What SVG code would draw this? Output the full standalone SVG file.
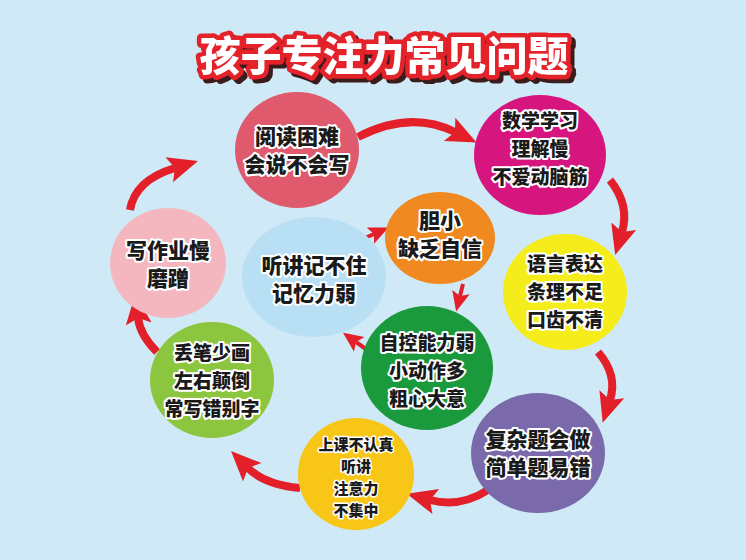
<svg xmlns="http://www.w3.org/2000/svg" width="746" height="560" viewBox="0 0 746 560">
<defs>
<marker id="ah" markerUnits="userSpaceOnUse" markerWidth="30" markerHeight="30" refX="6" refY="15" orient="auto"><path d="M0,2 L30,15 L0,28 L6,15 Z" fill="#e3202a"/></marker>
<marker id="ahs" markerUnits="userSpaceOnUse" markerWidth="20" markerHeight="20" refX="4" refY="10" orient="auto"><path d="M0,1 L20,10 L0,19 L4,10 Z" fill="#e3202a"/></marker>
<filter id="sh" x="-10%" y="-30%" width="120%" height="160%"><feDropShadow dx="4" dy="4" stdDeviation="0.5" flood-color="#3a1a1a"/></filter>
</defs>
<style>
.t{font-family:"Noto Sans CJK SC",sans-serif;font-weight:900;font-size:21px;fill:#1a1a1a;stroke:#fff;stroke-width:4;paint-order:stroke;text-anchor:middle;stroke-linejoin:round}
.m{font-size:19px}
.s{font-size:15px;stroke-width:3}
.a{fill:none;stroke:#e3202a;stroke-width:8;stroke-linecap:butt;marker-end:url(#ah)}
.b{fill:none;stroke:#e3202a;stroke-width:4;marker-end:url(#ahs)}
</style>
<rect width="746" height="560" fill="#cfe9f7"/>
<g id="title" filter="url(#sh)">
<text x="384" y="71" font-family="Noto Sans CJK SC,sans-serif" font-weight="900" font-size="41" text-anchor="middle" fill="#fff" stroke="#e3202a" stroke-width="9" stroke-linejoin="round" paint-order="stroke">孩子专注力常见问题</text>
</g>
<g id="connectors">
<path class="a" d="M358,137 Q410,110 455,132"/>
<path class="a" d="M610,180 Q630,205 622,232"/>
<path class="a" d="M598,352 Q618,375 610,400"/>
<path class="a" d="M488,490 Q460,508 430,500"/>
<path class="a" d="M300,488 Q265,485 248,468"/>
<path class="a" d="M157,352 Q140,335 138,318"/>
<path class="a" d="M130,210 Q135,180 175,168"/>
<path class="b" d="M356,242 L374,234"/>
<path class="b" d="M463,284 L460,296"/>
<path class="b" d="M370,352 L356,342"/>
</g>
<g id="n1"><ellipse cx="297" cy="150" rx="62" ry="58" fill="#e05a6e"/><text class="t" x="297" y="144">阅读困难</text><text class="t" x="297" y="172">会说不会写</text></g>
<g id="n2"><ellipse cx="540" cy="155" rx="66" ry="60" fill="#d6157f"/><text class="t m" x="540" y="128">数学学习</text><text class="t m" x="540" y="156">理解慢</text><text class="t m" x="540" y="184">不爱动脑筋</text></g>
<g id="n3"><ellipse cx="565" cy="292" rx="62" ry="58" fill="#f5ec1c"/><text class="t m" x="565" y="271">语言表达</text><text class="t m" x="565" y="299">条理不足</text><text class="t m" x="565" y="327">口齿不清</text></g>
<g id="n4"><ellipse cx="538" cy="453" rx="67" ry="60" fill="#7a6aab"/><text class="t" x="538" y="447">复杂题会做</text><text class="t" x="538" y="475">简单题易错</text></g>
<g id="n5"><ellipse cx="356" cy="474" rx="58" ry="56" fill="#f7c617"/><text class="t s" x="356" y="450">上课不认真</text><text class="t s" x="356" y="472">听讲</text><text class="t s" x="356" y="494">注意力</text><text class="t s" x="356" y="516">不集中</text></g>
<g id="n6"><ellipse cx="212" cy="380" rx="62" ry="58" fill="#8cc63f"/><text class="t m" x="212" y="360">丢笔少画</text><text class="t m" x="212" y="388">左右颠倒</text><text class="t m" x="212" y="416">常写错别字</text></g>
<g id="n7"><ellipse cx="168" cy="263" rx="58" ry="55" fill="#f4b7c0"/><text class="t" x="168" y="258">写作业慢</text><text class="t" x="168" y="286">磨蹭</text></g>
<g id="n8"><ellipse cx="440" cy="238" rx="55" ry="46" fill="#f0891f"/><text class="t" x="440" y="228">胆小</text><text class="t" x="440" y="256">缺乏自信</text></g>
<g id="n9"><ellipse cx="314" cy="277" rx="72" ry="60" fill="#b9dff5"/><text class="t" x="314" y="273">听讲记不住</text><text class="t" x="314" y="301">记忆力弱</text></g>
<g id="n10"><ellipse cx="427" cy="368" rx="66" ry="62" fill="#1a9a3c"/><text class="t m" x="427" y="350">自控能力弱</text><text class="t m" x="427" y="378">小动作多</text><text class="t m" x="427" y="406">粗心大意</text></g>
</svg>
